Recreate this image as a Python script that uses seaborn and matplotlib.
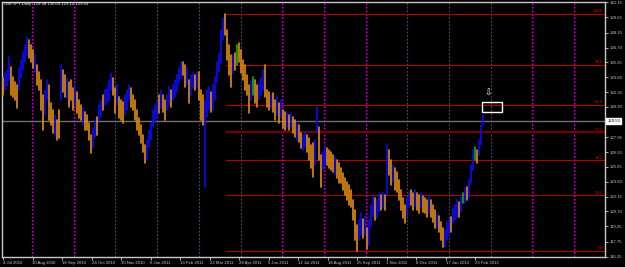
import numpy as np
import pandas as pd
import matplotlib
matplotlib.use("Agg")
import matplotlib.pyplot as plt
from matplotlib.patches import Rectangle
import seaborn as sns

# ---------------- data ----------------
symbol_header = "GBPJPY,Daily  129.38 130.09 129.12 129.53"
last_price = 129.53

date_labels = ["4 Jul 2010", "10 Aug 2010", "16 Sep 2010", "24 Oct 2010", "30 Nov 2010",
               "6 Jan 2011", "13 Feb 2011", "22 Mar 2011", "28 Apr 2011", "5 Jun 2011",
               "12 Jul 2011", "18 Aug 2011", "25 Sep 2011", "1 Nov 2011", "8 Dec 2011",
               "17 Jan 2012", "23 Feb 2012"]

price_ticks = [141.15, 139.65, 138.15, 136.70, 135.25, 133.80, 132.35, 130.90,
               127.95, 126.50, 125.05, 123.60, 122.15, 120.70, 119.25, 117.75, 116.25]

fib_levels = [0.0, 23.6, 38.2, 50.0, 61.8, 78.6, 100.0]

highs = [133.7,134.2,134.5,135.8,134.8,133.8,133.3,133.0,134.7,135.5,
         136.3,136.95,137.7,137.4,136.95,136.5,136.0,135.0,134.3,133.5,
         132.1,132.6,133.5,133.0,131.3,130.6,130.1,129.6,130.6,135.0,
         134.5,134.0,133.7,133.3,133.5,132.75,133.0,132.4,131.6,131.1,
         130.8,130.4,130.1,129.3,128.2,128.85,129.6,129.9,131.1,131.6,
         132.1,132.6,132.75,133.5,134.2,133.7,132.75,133.0,131.9,131.6,
         131.4,132.1,132.6,133.0,132.75,132.1,131.6,130.6,129.8,129.1,
         128.2,127.2,127.7,128.65,129.3,130.6,131.1,131.6,132.1,132.6,
         132.1,131.6,132.1,132.85,132.6,133.0,133.5,134.0,134.7,135.3,
         135.3,135.0,134.7,133.5,134.0,134.2,134.0,134.3,134.3,132.6,
         132.1,131.6,132.6,132.85,132.4,133.0,133.8,135.3,136.2,138.4,
         139.6,139.98,138.4,136.95,136.0,136.0,136.2,136.95,137.1,136.5,
         135.5,135.0,134.0,133.0,133.3,133.8,133.5,133.0,133.2,133.7,
         134.5,135.0,132.6,132.4,132.1,132.3,131.6,131.9,131.3,131.6,
         130.6,130.4,130.3,130.1,130.3,129.9,129.6,129.4,129.1,128.35,
         128.2,128.5,128.2,127.9,127.2,127.4,127.7,130.9,128.9,126.2,
         126.5,127.0,126.9,126.7,126.5,126.2,126.0,125.7,125.4,124.9,
         124.45,123.96,123.6,123.3,122.8,121.8,120.8,119.4,119.9,120.5,
         120.0,120.3,119.1,119.9,121.3,122.3,122.0,121.8,122.5,122.3,
         122.5,122.3,127.3,126.7,125.7,125.2,124.9,124.55,123.8,122.8,
         122.0,121.3,122.0,122.6,122.8,122.5,122.8,122.5,122.3,122.5,
         122.2,122.0,121.8,122.1,121.8,121.3,120.8,120.5,120.3,119.7,
         119.1,118.9,119.7,120.0,120.15,121.0,121.3,121.8,121.6,122.1,
         122.5,123.0,123.1,123.8,125.2,126.7,127.0,126.7,127.7,129.1,
         130.09]

lows = [132.1,132.6,132.9,133.5,132.1,131.9,131.6,130.8,132.6,133.7,
        134.5,135.3,136.0,135.7,135.3,134.7,134.3,133.0,132.6,130.6,
        128.65,130.1,131.6,129.6,129.1,128.35,128.2,127.7,127.9,131.6,
        132.4,131.9,131.8,130.9,131.6,130.6,131.1,130.3,129.8,129.6,
        129.1,128.65,128.65,127.7,126.4,126.9,128.0,128.2,129.6,129.9,
        130.6,131.1,131.3,131.6,132.6,132.1,130.3,131.1,129.8,129.6,
        129.3,130.1,130.6,131.6,130.9,130.6,129.6,128.65,128.2,127.4,
        126.5,125.4,125.7,127.0,127.7,128.9,129.4,129.8,130.3,130.8,
        130.4,129.6,130.6,131.1,130.9,131.6,131.9,132.4,133.2,133.7,
        134.0,132.85,133.0,131.3,132.1,132.75,132.6,132.85,131.6,129.6,
        129.1,123.1,129.9,130.6,130.4,130.6,131.6,133.3,134.3,135.2,
        137.4,137.9,135.5,134.0,132.85,134.2,134.5,135.0,135.3,134.2,
        133.5,132.6,132.1,130.3,131.6,132.1,131.3,130.9,131.6,132.1,
        132.6,131.9,130.9,130.6,130.8,130.4,129.6,130.1,129.3,129.8,
        128.8,128.65,128.8,128.65,128.9,128.35,128.0,127.7,127.5,126.9,
        126.7,127.0,126.5,125.7,124.9,124.05,125.2,128.4,125.7,123.1,
        124.7,125.2,125.2,124.9,124.7,124.55,124.25,123.96,123.5,123.5,
        122.8,122.3,121.8,121.3,121.1,119.9,117.9,116.84,117.9,118.4,
        118.1,118.4,117.0,117.4,119.2,120.3,119.9,120.05,120.6,120.8,
        121.0,120.8,122.3,124.25,123.3,123.6,122.8,122.6,121.8,120.8,
        120.05,119.6,120.3,121.1,121.3,120.8,121.1,120.8,120.5,121.0,
        120.6,120.5,120.15,120.5,120.15,119.7,119.1,119.1,118.7,117.9,
        117.2,117.2,117.9,118.4,118.7,119.6,119.9,120.05,120.15,120.6,
        121.5,121.5,121.8,122.0,123.5,124.7,125.7,125.4,126.2,127.2,
        129.12]

directions = list(
    "duuudddduu" "uuuddduddd" "duuddduddu" "dduddduddd" "udddduuduu"
    "duuuuddudd" "duuudddddd" "dduuuuuudu" "dduuduuuuu" "dduduududd"
    "duuuduuuuu" "uddddudgdd" "ddddugdduu" "uddduddudu" "ddududdudd"
    "uudddduudd" "uudddduddd" "dddddddduu" "duduuuduud" "ududdudddd"
    "dduudduddu" "dddudddudd" "duuuduuudu" "guduuugduu" "u")

n = len(highs)
assert len(lows) == n and len(directions) == n

# ---------------- style ----------------
sns.set_style("dark", {"axes.facecolor": "black", "figure.facecolor": "black"})
plt.rcParams["font.family"] = ["Liberation Sans", "DejaVu Sans"]

W, H = 625, 267
fig = plt.figure(figsize=(W / 100, H / 100), dpi=100, facecolor="black")
ax = fig.add_axes([2 / W, 10 / H, 603 / W, 255 / H])
ax.set_facecolor("black")
ax.grid(False)

fg = "#c8c8c8"
fs = 3.1

# vertical dotted grid (every ~20.85 bars)
grid_step = 20.85
gx = 14.5
while gx < 301:
    ax.axvline(gx, color="#c400c4", lw=0.8, ls=(0, (1.6, 1.6)), zorder=1)
    gx += grid_step

# current price line
ax.axhline(last_price, color="#707070", lw=1.0, zorder=1.5)

# fibonacci retracement
i_hi = int(np.argmax(highs))
i_lo = int(np.argmin(lows))
hi, lo = highs[i_hi], lows[i_lo]
for lev in fib_levels:
    p = lo + (hi - lo) * lev / 100.0
    if lev == 50.0:
        ax.hlines(p, i_hi, 301, color="#6e0000", lw=1.6, zorder=2)
    else:
        ax.hlines(p, i_hi, 301, color="#b00000", lw=0.8, zorder=2)
    ax.text(300, p + 0.05, f"{lev:.1f}", color="#c80000", fontsize=fs,
            ha="right", va="bottom", zorder=5)

# price bars through seaborn
bars = pd.DataFrame({
    "bar": np.repeat(np.arange(n), 2),
    "price": np.ravel(np.column_stack([lows, highs])),
    "dir": np.repeat(directions, 2),
})
palette = {"u": "#0c0cf0", "d": "#e08c14", "g": "#10b010"}
sns.lineplot(data=bars, x="bar", y="price", units="bar", estimator=None,
             hue="dir", palette=palette, hue_order=["u", "d", "g"],
             legend=False, sort=False, lw=1.2, ax=ax, zorder=3)

# annotations (arrow and rectangle)
ax.text(242.5, 132.3, "\u21e9", color="white", fontsize=6.5, ha="center",
        va="center", family="DejaVu Sans", zorder=6)
ax.add_patch(Rectangle((239.5, 130.41), 10, 0.97, fill=False, ec="white",
                       lw=1.0, zorder=6))

# axes limits
ax.set_xlim(-0.5, 301)
ax.set_ylim(116.25, 141.15)
ax.set_xlabel("")
ax.set_ylabel("")

# frame
for side in ["left", "right", "top", "bottom"]:
    ax.spines[side].set_visible(True)
    ax.spines[side].set_color(fg)
    ax.spines[side].set_linewidth(1.0)

# right price axis
ax.yaxis.tick_right()
ax.set_yticks(price_ticks)
ax.set_yticklabels([f"{v:.2f}" for v in price_ticks])
ax.tick_params(axis="y", which="both", right=True, left=False, length=2,
               width=0.6, color=fg, labelcolor=fg, labelsize=fs, pad=1.5)

# date axis
label_step = 14.75
ax.set_xticks([k * label_step for k in range(len(date_labels))])
ax.set_xticklabels(date_labels, ha="left")
ax.tick_params(axis="x", which="both", bottom=True, length=2, width=0.6,
               color=fg, labelcolor=fg, labelsize=fs, pad=1.0)

# current price tag
ax.text(1.004, last_price, f"{last_price:.2f}", transform=ax.get_yaxis_transform(),
        fontsize=fs, color="black", ha="left", va="center",
        bbox=dict(boxstyle="square,pad=0.25", fc="white", ec="white"), zorder=7,
        clip_on=False)

# header
fig.text(4 / W, 1 - 2.5 / H, symbol_header, color="white", fontsize=fs,
         ha="left", va="top")

fig.savefig("out.png", dpi=100, facecolor="black")
